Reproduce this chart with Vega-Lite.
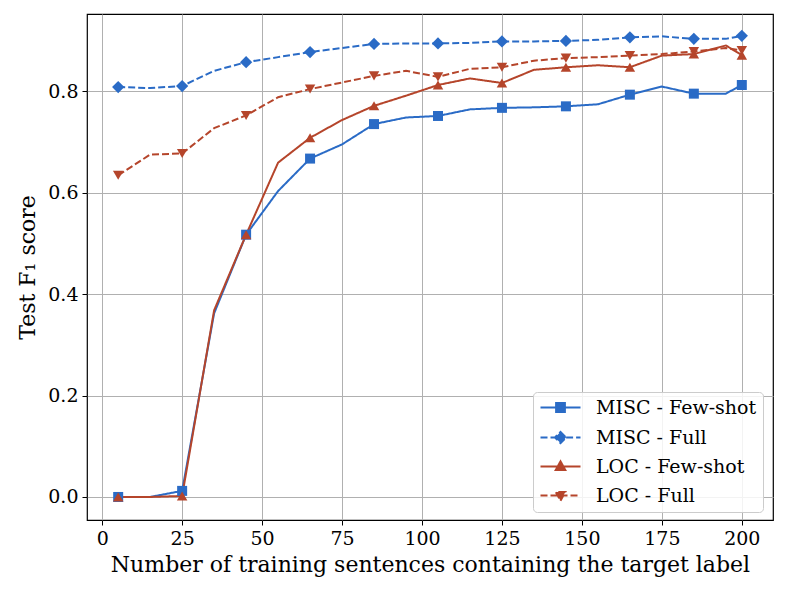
{
  "$schema": "https://vega.github.io/schema/vega-lite/v6.json",
  "autosize": "none",
  "width": 686,
  "height": 506,
  "padding": {"left": 87, "top": 14, "right": 16, "bottom": 72},
  "background": "white",
  "config": {
    "font": "DejaVu Serif",
    "view": {"stroke": "black", "strokeWidth": 1.2},
    "axis": {
      "domain": false,
      "grid": true,
      "gridColor": "#b0b0b0",
      "gridWidth": 1,
      "tickColor": "black",
      "tickSize": 5,
      "tickWidth": 1,
      "labelFont": "DejaVu Serif",
      "labelFontSize": 19,
      "labelColor": "black",
      "labelPadding": 4,
      "titleFont": "DejaVu Serif",
      "titleFontSize": 22,
      "titleFontWeight": "normal",
      "titleColor": "black"
    },
    "legend": {
      "labelFont": "DejaVu Serif",
      "labelFontSize": 19,
      "labelColor": "black"
    }
  },
  "data": {
    "values": [
      {"n": 5, "MISC - Few-shot": 0.000, "MISC - Full": 0.808, "LOC - Few-shot": 0.000, "LOC - Full": 0.634},
      {"n": 15, "MISC - Few-shot": 0.000, "MISC - Full": 0.806, "LOC - Few-shot": 0.000, "LOC - Full": 0.675},
      {"n": 25, "MISC - Few-shot": 0.012, "MISC - Full": 0.810, "LOC - Few-shot": 0.002, "LOC - Full": 0.677},
      {"n": 35, "MISC - Few-shot": 0.362, "MISC - Full": 0.840, "LOC - Few-shot": 0.368, "LOC - Full": 0.727},
      {"n": 45, "MISC - Few-shot": 0.517, "MISC - Full": 0.857, "LOC - Few-shot": 0.517, "LOC - Full": 0.752},
      {"n": 55, "MISC - Few-shot": 0.603, "MISC - Full": 0.867, "LOC - Few-shot": 0.659, "LOC - Full": 0.788},
      {"n": 65, "MISC - Few-shot": 0.667, "MISC - Full": 0.877, "LOC - Few-shot": 0.708, "LOC - Full": 0.804},
      {"n": 75, "MISC - Few-shot": 0.695, "MISC - Full": 0.885, "LOC - Few-shot": 0.743, "LOC - Full": 0.817},
      {"n": 85, "MISC - Few-shot": 0.735, "MISC - Full": 0.893, "LOC - Few-shot": 0.771, "LOC - Full": 0.830},
      {"n": 95, "MISC - Few-shot": 0.748, "MISC - Full": 0.894, "LOC - Few-shot": 0.791, "LOC - Full": 0.840},
      {"n": 105, "MISC - Few-shot": 0.751, "MISC - Full": 0.894, "LOC - Few-shot": 0.812, "LOC - Full": 0.828},
      {"n": 115, "MISC - Few-shot": 0.764, "MISC - Full": 0.895, "LOC - Few-shot": 0.825, "LOC - Full": 0.844},
      {"n": 125, "MISC - Few-shot": 0.767, "MISC - Full": 0.898, "LOC - Few-shot": 0.816, "LOC - Full": 0.847},
      {"n": 135, "MISC - Few-shot": 0.768, "MISC - Full": 0.898, "LOC - Few-shot": 0.842, "LOC - Full": 0.860},
      {"n": 145, "MISC - Few-shot": 0.770, "MISC - Full": 0.899, "LOC - Few-shot": 0.847, "LOC - Full": 0.865},
      {"n": 155, "MISC - Few-shot": 0.774, "MISC - Full": 0.901, "LOC - Few-shot": 0.851, "LOC - Full": 0.867},
      {"n": 165, "MISC - Few-shot": 0.793, "MISC - Full": 0.906, "LOC - Few-shot": 0.847, "LOC - Full": 0.870},
      {"n": 175, "MISC - Few-shot": 0.809, "MISC - Full": 0.908, "LOC - Few-shot": 0.870, "LOC - Full": 0.873},
      {"n": 185, "MISC - Few-shot": 0.795, "MISC - Full": 0.903, "LOC - Few-shot": 0.873, "LOC - Full": 0.878},
      {"n": 195, "MISC - Few-shot": 0.795, "MISC - Full": 0.903, "LOC - Few-shot": 0.890, "LOC - Full": 0.885},
      {"n": 200, "MISC - Few-shot": 0.812, "MISC - Full": 0.909, "LOC - Few-shot": 0.871, "LOC - Full": 0.880}
    ]
  },
  "transform": [
    {"fold": ["MISC - Few-shot", "MISC - Full", "LOC - Few-shot", "LOC - Full"], "as": ["series", "f1"]}
  ],
  "encoding": {
    "x": {
      "field": "n",
      "type": "quantitative",
      "title": "Number of training sentences containing the target label",
      "scale": {"domain": [-4.75, 209.75], "nice": false, "zero": false},
      "axis": {"values": [0, 25, 50, 75, 100, 125, 150, 175, 200], "titlePadding": 6}
    },
    "y": {
      "field": "f1",
      "type": "quantitative",
      "title": "Test F₁ score",
      "scale": {"domain": [-0.0454, 0.952], "nice": false, "zero": false},
      "axis": {"values": [0, 0.2, 0.4, 0.6, 0.8], "format": ".1f", "titlePadding": 8}
    },
    "color": {
      "field": "series",
      "type": "nominal",
      "title": null,
      "scale": {
        "domain": ["MISC - Few-shot", "MISC - Full", "LOC - Few-shot", "LOC - Full"],
        "range": ["#2a6bc6", "#2a6bc6", "#b5452b", "#b5452b"]
      },
      "legend": {
        "orient": "none",
        "legendX": 446,
        "legendY": 378,
        "padding": 6,
        "strokeColor": "#cccccc",
        "fillColor": "rgba(255,255,255,0.85)",
        "cornerRadius": 4,
        "rowPadding": 9,
        "symbolSize": 64,
        "symbolOffset": 12,
        "labelOffset": 26,
        "labelLimit": 300,
        "symbolStrokeWidth": 2,
        "encode": {
          "symbols": {
            "update": {
              "shape": {"signal": "datum.value == 'MISC - Few-shot' ? 'M-5,0H5M-1.1,-1.1H1.1V1.1H-1.1Z' : datum.value == 'MISC - Full' ? 'M-5,0H-1.4M1.4,0H5M0,-1.4L1.4,0L0,1.4L-1.4,0Z' : datum.value == 'LOC - Few-shot' ? 'M-5,0H5M0,-1.3L1.2,0.9H-1.2Z' : 'M-5,0H5M0,1.3L1.2,-0.9H-1.2Z'"},
              "fill": {"scale": "color", "field": "value"},
              "stroke": {"scale": "color", "field": "value"},
              "strokeWidth": {"value": 2},
              "opacity": {"value": 1}
            }
          }
        }
      }
    },
    "strokeDash": {
      "field": "series",
      "type": "nominal",
      "title": null,
      "scale": {
        "domain": ["MISC - Few-shot", "MISC - Full", "LOC - Few-shot", "LOC - Full"],
        "range": [[1, 0], [7, 3], [1, 0], [7, 3]]
      }
    }
  },
  "layer": [
    {
      "mark": {"type": "line", "strokeWidth": 2}
    },
    {
      "transform": [
        {"filter": "(datum.n - 5) % 20 == 0 || datum.n == 200"},
        {"filter": "datum.series == 'MISC - Few-shot'"}
      ],
      "mark": {"type": "point", "shape": "square", "filled": true, "opacity": 1, "size": 100, "strokeDash": [1, 0]}
    },
    {
      "transform": [
        {"filter": "(datum.n - 5) % 20 == 0 || datum.n == 200"},
        {"filter": "datum.series == 'MISC - Full'"}
      ],
      "mark": {"type": "point", "shape": "diamond", "filled": true, "opacity": 1, "size": 150, "strokeDash": [1, 0]}
    },
    {
      "transform": [
        {"filter": "(datum.n - 5) % 20 == 0 || datum.n == 200"},
        {"filter": "datum.series == 'LOC - Few-shot'"}
      ],
      "mark": {"type": "point", "shape": "triangle-up", "filled": true, "opacity": 1, "size": 110, "strokeDash": [1, 0]}
    },
    {
      "transform": [
        {"filter": "(datum.n - 5) % 20 == 0 || datum.n == 200"},
        {"filter": "datum.series == 'LOC - Full'"}
      ],
      "mark": {"type": "point", "shape": "triangle-down", "filled": true, "opacity": 1, "size": 110, "strokeDash": [1, 0]}
    }
  ]
}
